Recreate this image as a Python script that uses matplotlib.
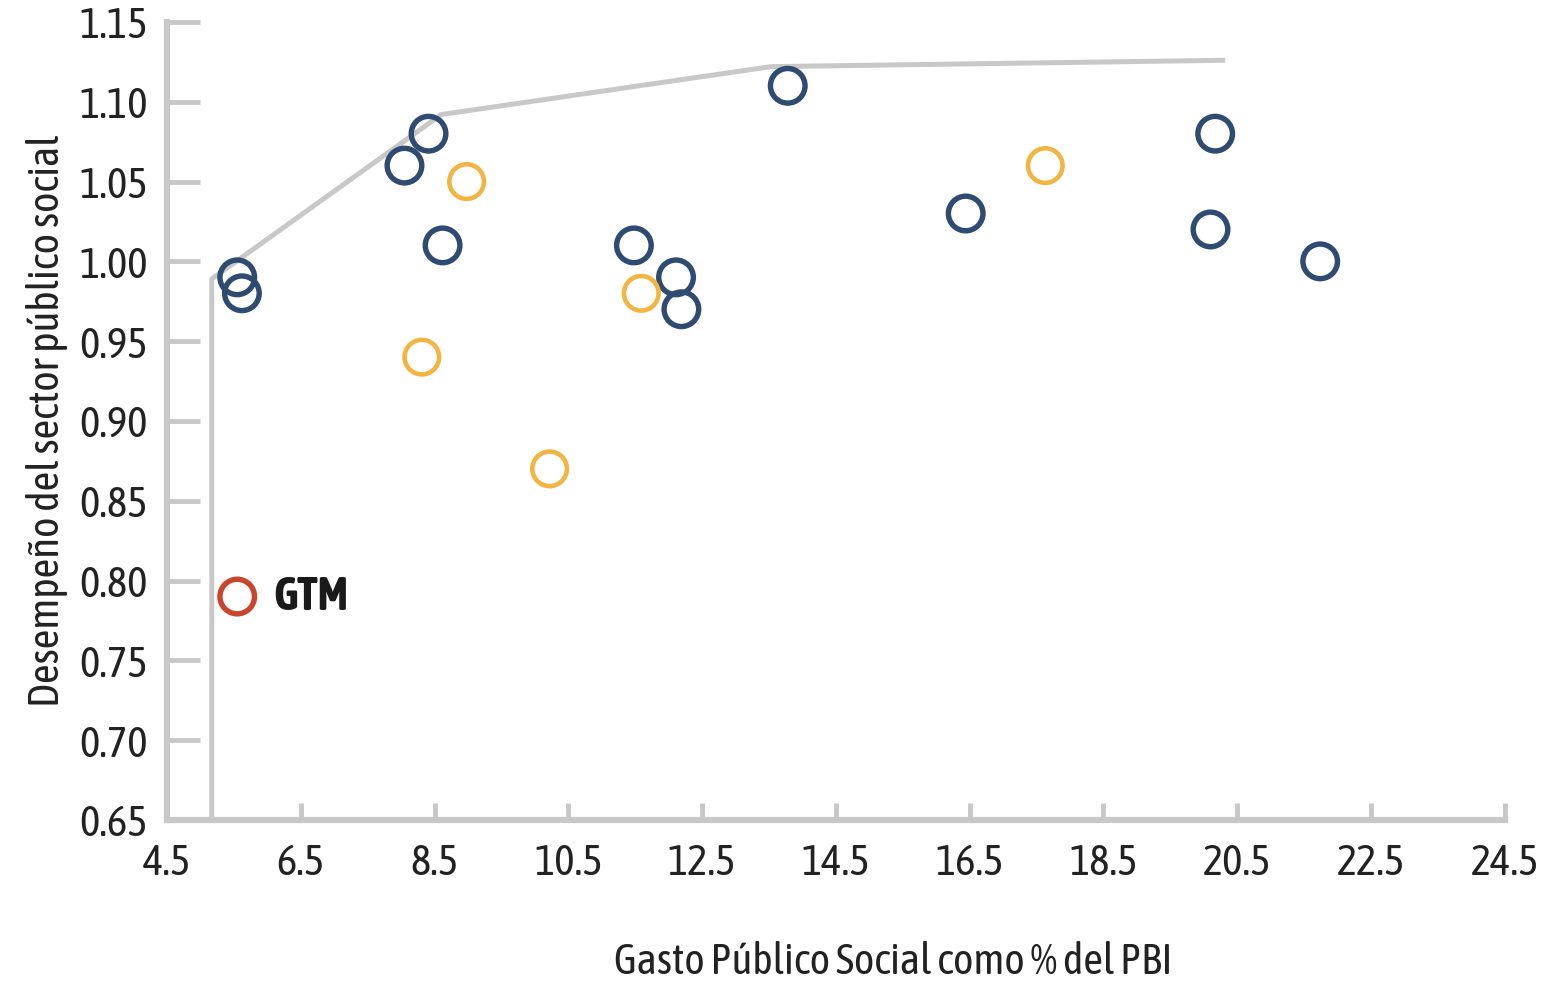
import matplotlib
matplotlib.use("Agg")
import matplotlib.pyplot as plt

plt.rcParams['font.family'] = ['Asap Condensed', 'DejaVu Sans']

# Countries off the frontier (blue), other group (orange), Guatemala (red)
blue_x = [5.55, 5.62, 8.05, 8.41, 8.62, 11.48, 12.11, 12.19, 13.78, 16.44, 20.17, 20.10, 21.74]
blue_y = [0.99, 0.98, 1.06, 1.08, 1.01, 1.01, 0.99, 0.97, 1.11, 1.03, 1.08, 1.02, 1.00]

orange_x = [8.98, 8.31, 10.22, 11.59, 17.63]
orange_y = [1.05, 0.94, 0.87, 0.98, 1.06]

gtm_x = [5.55]
gtm_y = [0.79]
gtm_label = "GTM"

# efficiency frontier
front_x = [5.17, 5.17, 8.6, 13.53, 20.32]
front_y = [0.65, 0.989, 1.092, 1.122, 1.126]

xticks = [4.5, 6.5, 8.5, 10.5, 12.5, 14.5, 16.5, 18.5, 20.5, 22.5, 24.5]
yticks = [0.65, 0.70, 0.75, 0.80, 0.85, 0.90, 0.95, 1.00, 1.05, 1.10, 1.15]

grey = '#c8c8c8'
txt = '#222222'

fig = plt.figure(figsize=(15.52, 9.89), dpi=100)
ax = fig.add_axes([0.1076, 0.1709, 0.862, 0.8069])

ax.plot(front_x, front_y, color=grey, lw=3.6, zorder=1, solid_capstyle='butt')

ax.scatter(blue_x, blue_y, s=620, facecolors='none', edgecolors='#2f4b72', linewidths=3.9, zorder=3)
ax.scatter(orange_x, orange_y, s=620, facecolors='none', edgecolors='#f2b544', linewidths=3.3, zorder=3)
ax.scatter(gtm_x, gtm_y, s=620, facecolors='none', edgecolors='#c9452b', linewidths=3.9, zorder=3)
ax.annotate(gtm_label, (gtm_x[0], gtm_y[0]), xytext=(26, 0), textcoords='offset points',
            va='center', ha='left', fontsize=33, fontweight='bold', color='#1a1a1a')

ax.set_xlim(4.5, 24.5)
ax.set_ylim(0.65, 1.15)
ax.set_xticks(xticks)
ax.set_yticks(yticks)
ax.set_xticklabels([f"{v:.1f}" for v in xticks])
ax.set_yticklabels([f"{v:.2f}" for v in yticks])

for side in ['top', 'right']:
    ax.spines[side].set_visible(False)
for side in ['left', 'bottom']:
    ax.spines[side].set_color(grey)
    ax.spines[side].set_linewidth(4.5)

ax.tick_params(axis='y', direction='in', length=24, width=3.5, color=grey,
               labelsize=31, pad=14, labelcolor=txt)
ax.tick_params(axis='x', direction='in', length=12, width=3.5, color=grey,
               labelsize=31, pad=16, labelcolor=txt)

ax.set_xlabel("Gasto Público Social como % del PBI", fontsize=31, color=txt)
ax.xaxis.set_label_coords(0.543, -0.152)
ax.set_ylabel("Desempeño del sector público social", fontsize=31, color=txt, labelpad=8)

fig.savefig("out.png", dpi=100)
